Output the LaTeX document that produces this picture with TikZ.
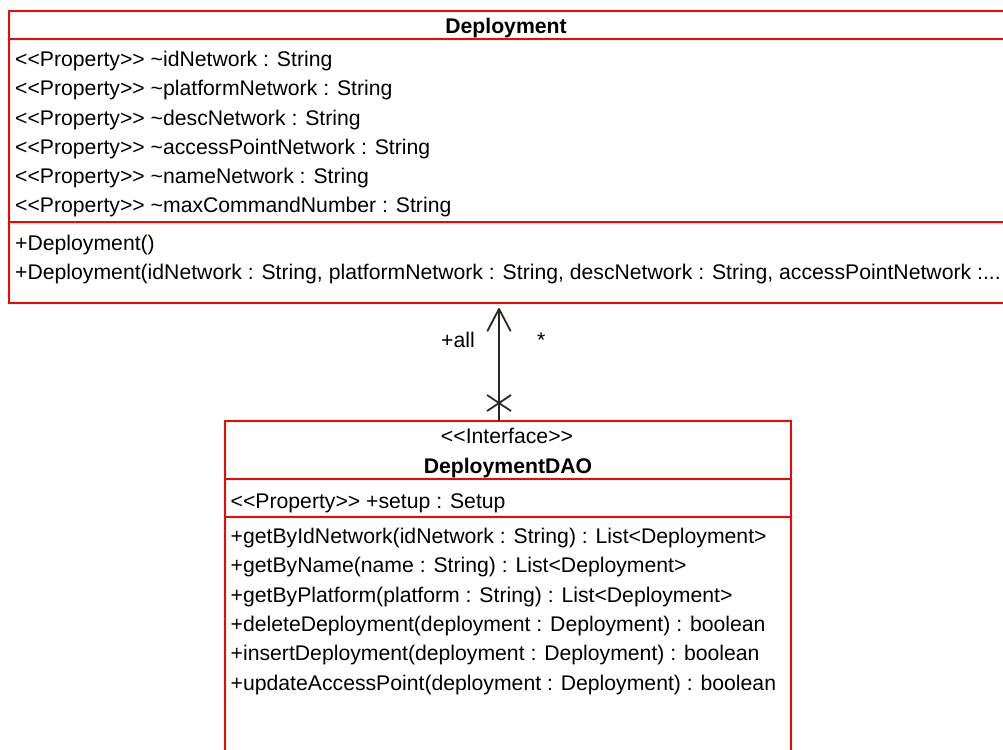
\documentclass[tikz,border=0pt]{standalone}
\usepackage{fontspec}
\setmainfont{Liberation Sans}
\usetikzlibrary{arrows.meta}
% stereotype brackets, kept apart so they are not turned into guillemets
\newcommand\stlt{<\kern0pt<}
\newcommand\stgt{>\kern0pt>}
\newcommand\tld{\textasciitilde}
\definecolor{umlred}{RGB}{255,0,0}
\definecolor{linegray}{RGB}{40,40,40}
\tikzset{
  classbox/.style={rectangle, inner sep=0pt, outer sep=0pt, anchor=north west},
  outline/.style={draw=umlred, line width=2pt},
  member/.style={anchor=base west, inner sep=0pt, font=\fontsize{21.2}{25}\selectfont},
  heading/.style={anchor=base, inner sep=0pt, font=\fontsize{21.2}{25}\selectfont},
  assoc/.style={draw=linegray, line width=1.8pt},
  rolelabel/.style={anchor=base west, inner sep=0pt, font=\fontsize{21.2}{25}\selectfont},
}
\begin{document}
\begin{tikzpicture}[x=1pt,y=-1pt]
\useasboundingbox (0,0) rectangle (1003,749);
\clip (0,0) rectangle (1003,749);

% class Deployment
\node[classbox, minimum width=996pt, minimum height=292pt] (dep) at (9,11) {};
\draw[outline] (dep.north west) rectangle (dep.south east);
\draw[outline] (9,39) -- (1005,39);
\draw[outline] (9,222) -- (1005,222);
\node[heading] (depname) at (506,34) {\textbf{Deployment}};
\node[member] (a1) at (15,66.5)   {\stlt Property\stgt{} \tld idNetwork : String};
\node[member] (a2) at (15,95.75)  {\stlt Property\stgt{} \tld platformNetwork : String};
\node[member] (a3) at (15,125)    {\stlt Property\stgt{} \tld descNetwork : String};
\node[member] (a4) at (15,154.25) {\stlt Property\stgt{} \tld accessPointNetwork : String};
\node[member] (a5) at (15,183.5)  {\stlt Property\stgt{} \tld nameNetwork : String};
\node[member] (a6) at (15,212.75) {\stlt Property\stgt{} \tld maxCommandNumber : String};
\node[member] (m1) at (15,250.5)  {+Deployment()};
\node[member] (m2) at (15,279)    {+Deployment(idNetwork : String, platformNetwork : String, descNetwork : String, accessPointNetwork :...};

% interface DeploymentDAO
\node[classbox, minimum width=566pt, minimum height=340pt] (dao) at (225,421) {};
\draw[outline] (dao.north west) rectangle (dao.south east);
\draw[outline] (225,479) -- (791,479);
\draw[outline] (225,517) -- (791,517);
\node[heading] (daost) at (507,443.5) {\stlt Interface\stgt};
\node[heading] (daoname) at (508,473) {\textbf{DeploymentDAO}};
\node[member] (s1) at (230.5,508) {\stlt Property\stgt{} +setup : Setup};
\node[member] (o1) at (230.5,543.2) {+getByIdNetwork(idNetwork : String) : List<Deployment>};
\node[member] (o2) at (230.5,572.6) {+getByName(name : String) : List<Deployment>};
\node[member] (o3) at (230.5,602)   {+getByPlatform(platform : String) : List<Deployment>};
\node[member] (o4) at (230.5,631.4) {+deleteDeployment(deployment : Deployment) : boolean};
\node[member] (o5) at (230.5,660.8) {+insertDeployment(deployment : Deployment) : boolean};
\node[member] (o6) at (230.5,690.2) {+updateAccessPoint(deployment : Deployment) : boolean};

% association DeploymentDAO -> Deployment (navigable, role +all, multiplicity *)
\coordinate (ax) at (499,0);
\coordinate (cross) at (499,403);
\draw[assoc, -{Straight Barb[length=22pt,width=23pt,round]}]
  (dao.north -| ax) -- ([yshift=-5pt]dep.south -| ax);
\draw[assoc] ([shift={(-12,-8)}]cross) -- ([shift={(12,8)}]cross);
\draw[assoc] ([shift={(-12,8)}]cross) -- ([shift={(12,-8)}]cross);
\node[rolelabel] (role) at (441,347) {+all};
\node[rolelabel] (mult) at (537,347) {*};
\end{tikzpicture}
\end{document}
